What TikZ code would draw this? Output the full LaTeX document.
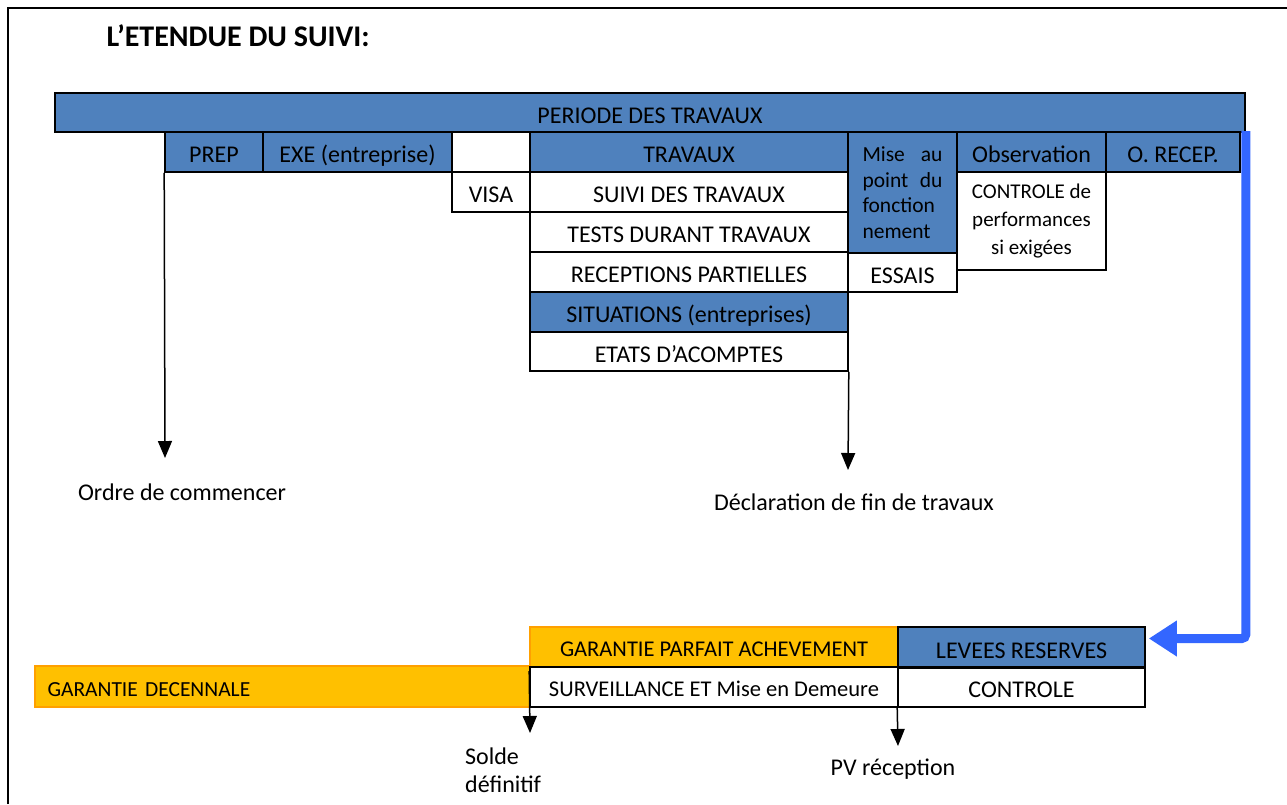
\documentclass[tikz,border=0pt]{standalone}
\usepackage{fontspec}
\setmainfont{Carlito}
\usetikzlibrary{arrows.meta,positioning}
\definecolor{cellblue}{HTML}{4F81BD}
\definecolor{gold}{HTML}{FFC000}
\definecolor{goldedge}{HTML}{FFA000}
\definecolor{flow}{HTML}{3366FF}

\begin{document}
\begin{tikzpicture}[x=1pt,y=-1pt,
  box/.style={draw=black,line width=1.6pt,inner sep=0pt},
  cell/.style={box,font=\fontsize{24}{28}\selectfont,text height=21pt,text depth=0pt},
  smallcell/.style={cell,font=\fontsize{22.5}{26}\selectfont,text height=19.5pt},
  bluecell/.style={cell,fill=cellblue},
  goldcell/.style={smallcell,draw=goldedge,fill=gold},
  milestone/.style={draw=black,line width=1.5pt,-{Triangle[width=14pt,length=17pt]}},
  caption/.style={font=\fontsize{24}{28}\selectfont,inner sep=0pt}]
  \useasboundingbox (0,0) rectangle (1287,804);

  % Frame and title
  \draw[line width=2pt] (8,804) -- (8,8) -- (1287,8);
  \node[font=\fontsize{30}{34}\selectfont\bfseries,anchor=west] (titre) at (103,36) {L’ETENDUE DU SUIVI:};

  % Periode
  \node[bluecell,minimum width=1190pt,minimum height=39pt] (periode) at (650,112.5) {PERIODE DES TRAVAUX};

  % Phases
  \node[bluecell,minimum width=98pt,minimum height=40pt] (prep) at (214,152) {PREP};
  \node[bluecell,minimum width=189pt,minimum height=40pt] (exe) at (357.5,152) {EXE (entreprise)};
  \node[cell,minimum width=78pt,minimum height=40pt] (vide) at (491,152) {};
  \node[bluecell,minimum width=318pt,minimum height=40pt] (travaux) at (689,152) {TRAVAUX};
  \node[box,fill=cellblue,minimum width=109pt,minimum height=121pt,text width=80pt,align=left,
    font=\fontsize{21.5}{25.5}\selectfont] (mise) at (902.5,192.5)
    {Mise\hfill au\\point\hfill du\\fonction\\nement};
  \node[bluecell,minimum width=149pt,minimum height=40pt] (obs) at (1031.5,152) {Observation};
  \node[bluecell,minimum width=134pt,minimum height=40pt] (orecep) at (1173,152) {O. RECEP.};

  % Suivi
  \node[cell,minimum width=78pt,minimum height=40pt] (visa) at (491,192) {VISA};
  \node[cell,minimum width=318pt,minimum height=40pt] (suivi) at (689,192) {SUIVI DES TRAVAUX};
  \node[cell,minimum width=318pt,minimum height=40pt] (tests) at (689,232) {TESTS DURANT TRAVAUX};
  \node[cell,minimum width=318pt,minimum height=40pt] (partielles) at (689,272) {RECEPTIONS PARTIELLES};
  \node[cell,minimum width=109pt,minimum height=39pt] (essais) at (902.5,272.5) {ESSAIS};
  \node[box,minimum width=149pt,minimum height=98pt,align=center,
    font=\fontsize{21}{28}\selectfont] (perf) at (1031.5,221) {CONTROLE de\\performances\\si exigées};
  \node[bluecell,minimum width=318pt,minimum height=40pt] (situations) at (689,312) {SITUATIONS (entreprises)};
  \node[cell,minimum width=318pt,minimum height=39pt] (acomptes) at (689,351.5) {ETATS D’ACOMPTES};

  % Ordre de commencer / fin de travaux
  \coordinate (ordrefin) at (165,458);
  \draw[milestone] (prep.south west) -- (ordrefin);
  \node[caption] (ordre) at (182,492) {Ordre de commencer};
  \coordinate (declfin) at (848,470);
  \draw[milestone] (acomptes.south east) -- (declfin);
  \node[caption] (decl) at (854,502) {Déclaration de fin de travaux};

  % Garanties
  \node[goldcell,minimum width=495pt,minimum height=41pt,text width=470pt,align=left,
    font=\fontsize{21.5}{25}\selectfont] (decennale) at (282.5,686.5) {GARANTIE DECENNALE};
  \node[goldcell,minimum width=368pt,minimum height=40pt] (gpa) at (714,647) {GARANTIE PARFAIT ACHEVEMENT};
  \node[smallcell,minimum width=368pt,minimum height=40pt] (surv) at (714,687) {SURVEILLANCE ET Mise en Demeure};
  \node[bluecell,minimum width=247pt,minimum height=41pt] (levees) at (1021.5,647.5) {LEVEES RESERVES};
  \node[cell,minimum width=247pt,minimum height=40pt] (controle) at (1021.5,687) {CONTROLE};

  % Solde / PV
  \coordinate (soldefin) at (530,733);
  \draw[milestone] ([yshift=-5pt]surv.north west) -- (soldefin);
  \node[caption,align=left,anchor=north west] (solde) at (465,748) {Solde\\définitif};
  \coordinate (pvfin) at (898,746);
  \draw[milestone] (controle.south west) -- (pvfin);
  \node[caption] (pv) at (893,769) {PV réception};

  % Reception -> levees
  \draw[flow,line width=9pt,rounded corners=4pt,-{Triangle[width=34pt,length=28pt]}]
    ([xshift=5pt]orecep.north east) |- ([xshift=3pt,yshift=9pt]levees.east);
\end{tikzpicture}
\end{document}
